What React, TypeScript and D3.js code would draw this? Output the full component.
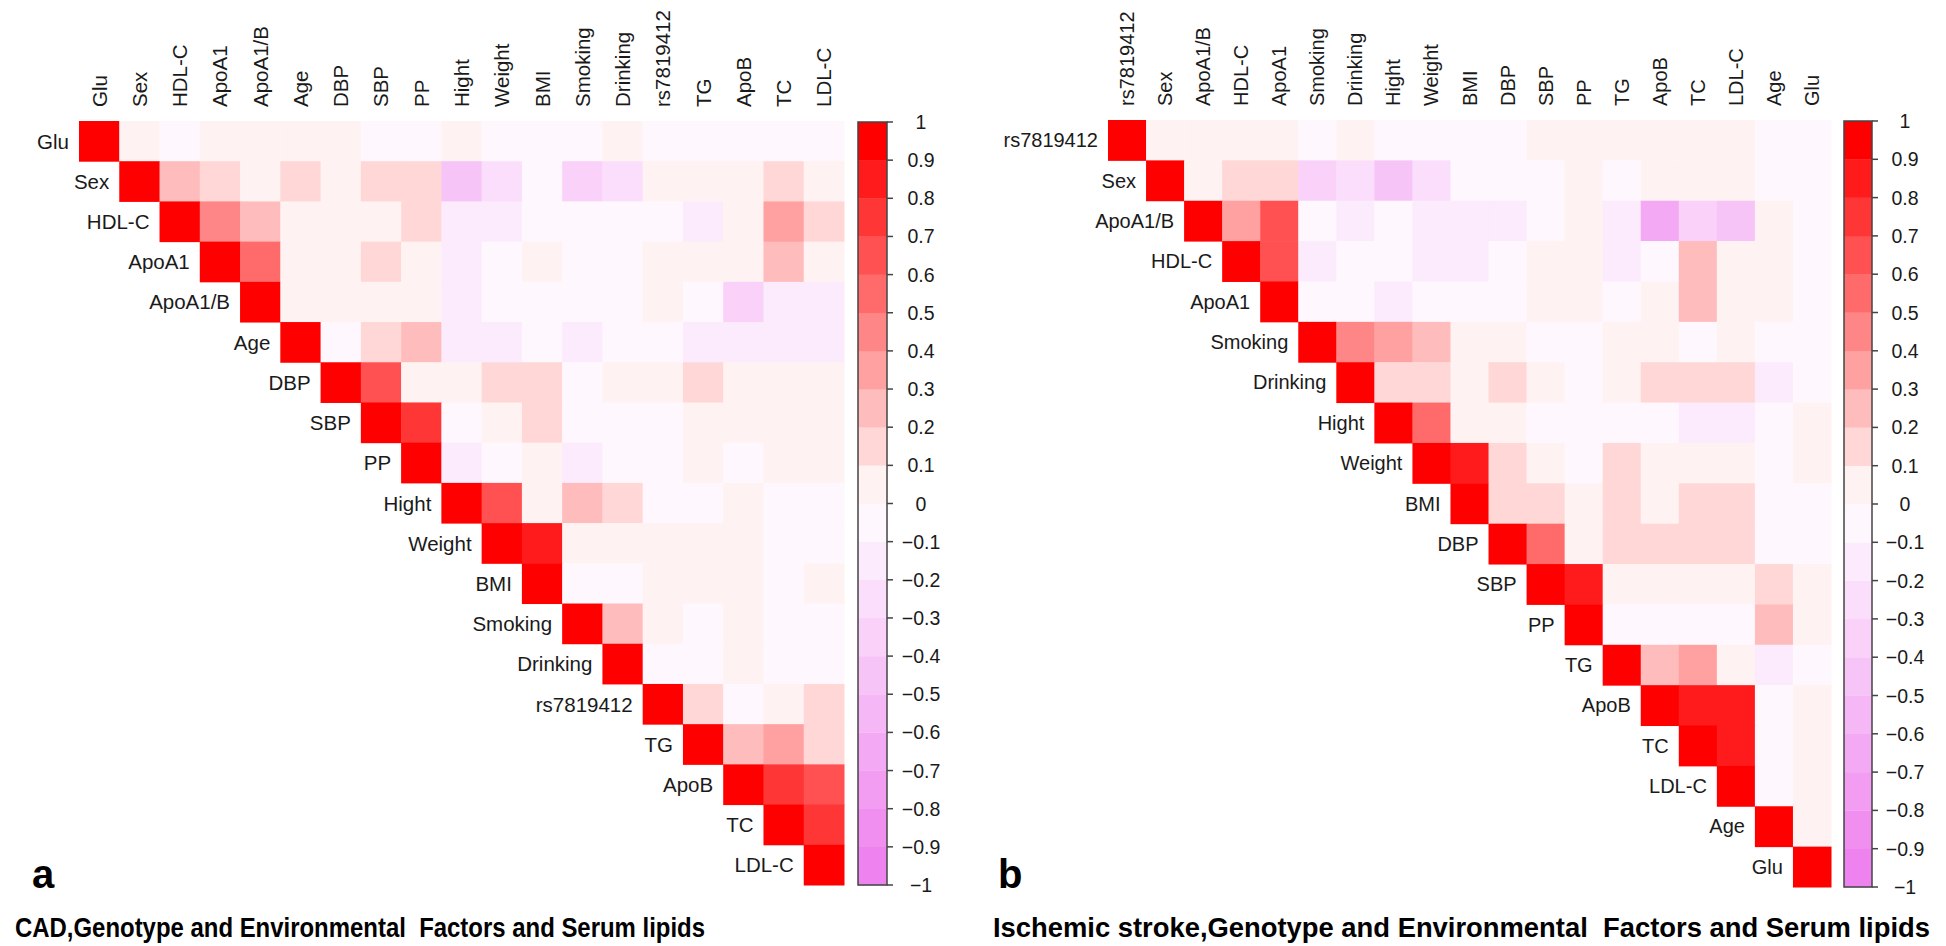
import React from 'react';
import * as d3 from 'd3';

// ---- data ----
const varsA = ['Glu', 'Sex', 'HDL-C', 'ApoA1', 'ApoA1/B', 'Age', 'DBP', 'SBP', 'PP', 'Hight', 'Weight', 'BMI', 'Smoking', 'Drinking', 'rs7819412', 'TG', 'ApoB', 'TC', 'LDL-C'];

// upper triangle: row i holds r(i, j) for j > i
const corrA: number[][] = [
  [0.05, -0.03, 0.05, 0.05, 0.05, 0.05, -0.03, -0.03, 0.05, -0.03, -0.03, -0.03, 0.05, -0.03, -0.03, -0.03, -0.03, -0.03],
  [0.25, 0.15, 0.05, 0.15, 0.05, 0.15, 0.15, -0.42, -0.25, -0.03, -0.38, -0.25, 0.05, 0.05, 0.05, 0.15, 0.05],
  [0.45, 0.25, 0.05, 0.05, 0.05, 0.15, -0.15, -0.12, -0.03, -0.03, -0.03, -0.03, -0.12, 0.05, 0.35, 0.15],
  [0.55, 0.05, 0.05, 0.15, 0.05, -0.12, -0.03, 0.05, -0.03, -0.03, 0.05, 0.05, 0.05, 0.28, 0.05],
  [0.05, 0.05, 0.05, 0.05, -0.12, -0.03, -0.03, -0.03, -0.03, 0.05, -0.03, -0.38, -0.12, -0.2],
  [-0.03, 0.15, 0.25, -0.12, -0.12, -0.03, -0.12, -0.03, -0.03, -0.12, -0.12, -0.12, -0.12],
  [0.65, 0.05, 0.05, 0.15, 0.15, -0.03, 0.05, 0.05, 0.15, 0.05, 0.05, 0.05],
  [0.75, -0.03, 0.05, 0.15, -0.03, -0.03, -0.03, 0.05, 0.05, 0.05, 0.05],
  [-0.12, -0.03, 0.05, -0.12, -0.03, -0.03, 0.05, -0.03, 0.05, 0.05],
  [0.6, 0.05, 0.25, 0.15, -0.03, -0.03, 0.05, -0.03, -0.03],
  [0.85, 0.05, 0.05, 0.05, 0.05, 0.05, -0.03, -0.03],
  [-0.03, -0.03, 0.05, 0.05, 0.05, -0.03, 0.05],
  [0.25, 0.05, -0.03, 0.05, -0.03, -0.03],
  [-0.03, -0.03, 0.05, -0.03, -0.03],
  [0.15, -0.03, 0.05, 0.15],
  [0.22, 0.35, 0.15],
  [0.75, 0.65],
  [0.75],
];

const varsB = ['rs7819412', 'Sex', 'ApoA1/B', 'HDL-C', 'ApoA1', 'Smoking', 'Drinking', 'Hight', 'Weight', 'BMI', 'DBP', 'SBP', 'PP', 'TG', 'ApoB', 'TC', 'LDL-C', 'Age', 'Glu'];

const corrB: number[][] = [
  [0.05, 0.05, 0.05, 0.05, -0.03, 0.05, -0.03, -0.03, -0.03, -0.03, 0.05, 0.05, 0.05, 0.05, 0.05, 0.05, -0.03, -0.03],
  [0.05, 0.15, 0.15, -0.35, -0.3, -0.42, -0.3, -0.03, -0.03, -0.03, 0.05, -0.03, 0.05, 0.05, 0.05, -0.03, -0.03],
  [0.35, 0.6, -0.03, -0.12, -0.03, -0.12, -0.12, -0.12, -0.03, 0.05, -0.2, -0.65, -0.4, -0.48, 0.05, -0.03],
  [0.65, -0.12, -0.03, -0.03, -0.12, -0.12, -0.03, 0.05, 0.05, -0.12, -0.03, 0.25, 0.05, 0.05, -0.03],
  [-0.03, -0.03, -0.12, -0.03, -0.03, -0.03, 0.05, 0.05, -0.03, 0.05, 0.25, 0.05, 0.05, -0.03],
  [0.45, 0.38, 0.28, 0.05, 0.05, -0.03, -0.03, 0.05, 0.05, -0.03, 0.05, -0.03, -0.03],
  [0.18, 0.18, 0.05, 0.15, 0.05, -0.03, 0.05, 0.15, 0.15, 0.15, -0.12, -0.03],
  [0.58, 0.05, 0.05, -0.03, -0.03, -0.03, -0.03, -0.12, -0.12, -0.03, 0.05],
  [0.85, 0.15, 0.05, -0.03, 0.15, 0.05, 0.05, 0.05, -0.03, 0.05],
  [0.15, 0.15, 0.05, 0.15, 0.05, 0.15, 0.15, -0.03, -0.03],
  [0.58, 0.05, 0.15, 0.15, 0.15, 0.15, -0.03, -0.03],
  [0.85, 0.05, 0.05, 0.05, 0.05, 0.18, 0.05],
  [-0.03, -0.03, -0.03, -0.03, 0.25, 0.05],
  [0.25, 0.35, 0.05, -0.12, -0.03],
  [0.85, 0.85, -0.03, 0.05],
  [0.85, -0.03, 0.05],
  [-0.03, 0.05],
  [0.05],
];

const legendTicks = d3.range(-10, 11).map((k) => k / 10);
const titleA = 'CAD,Genotype and Environmental  Factors and Serum lipids';
const titleB = 'Ischemic stroke,Genotype and Environmental  Factors and Serum lipids';

// 20 discrete colours, violet -> white -> red
const ramp = d3.piecewise(d3.interpolateRgb, ['#EE82EE', '#FFFFFF', '#FF0000']);
const bandColors = d3.range(20).map((i) => d3.color(ramp(i / 19))!.formatHex());
const colorScale = d3.scaleQuantize<string>().domain([-1, 1]).range(bandColors);

const FONT = 'Liberation Sans, Arial, Helvetica, sans-serif';

interface PanelProps {
  vars: string[];
  corr: number[][];
  left: number;
  top: number;
  width: number;
  height: number;
  fontSize: number;
  barX: number;
  barW: number;
  barTop: number;
  barBottom: number;
  labelX: number;
  letter: string;
  letterX: number;
  title: string;
  titleX: number;
  titleW: number;
}

const Panel: React.FC<PanelProps> = (p) => {
  const x = d3.scaleBand<string>().domain(p.vars).range([p.left, p.left + p.width]);
  const y = d3.scaleBand<string>().domain(p.vars).range([p.top, p.top + p.height]);
  const yBar = d3.scaleLinear().domain([1, -1]).range([p.barTop, p.barBottom]);

  const cells: { r: string; c: string; v: number }[] = [];
  p.vars.forEach((r, i) => {
    cells.push({ r, c: r, v: 1 });
    (p.corr[i] || []).forEach((v, k) => cells.push({ r, c: p.vars[i + 1 + k], v }));
  });

  const bands = d3.range(20).map((i) => ({ lo: -1 + i * 0.1, hi: -1 + (i + 1) * 0.1, col: bandColors[i] }));

  return (
    <g>
      {cells.map((d) => (
        <rect
          key={d.r + '|' + d.c}
          x={x(d.c)!}
          y={y(d.r)!}
          width={x.bandwidth() + 0.5}
          height={y.bandwidth() + 0.5}
          fill={colorScale(d.v)}
        />
      ))}

      {/* column labels */}
      {p.vars.map((v) => (
        <text
          key={'c' + v}
          transform={`translate(${x(v)! + x.bandwidth() / 2},${p.top - 14}) rotate(-90)`}
          fontSize={p.fontSize}
          fontFamily={FONT}
          fill="#1a1a1a"
          dominantBaseline="central"
        >
          {v}
        </text>
      ))}

      {/* row labels */}
      {p.vars.map((v) => (
        <text
          key={'r' + v}
          x={x(v)! - 10}
          y={y(v)! + y.bandwidth() / 2}
          fontSize={p.fontSize}
          fontFamily={FONT}
          fill="#1a1a1a"
          textAnchor="end"
          dominantBaseline="central"
        >
          {v}
        </text>
      ))}

      {/* colour legend */}
      {bands.map((b, i) => (
        <rect
          key={'b' + i}
          x={p.barX}
          y={yBar(b.hi)}
          width={p.barW}
          height={yBar(b.lo) - yBar(b.hi) + 0.3}
          fill={b.col}
        />
      ))}
      <rect
        x={p.barX}
        y={p.barTop}
        width={p.barW}
        height={p.barBottom - p.barTop}
        fill="none"
        stroke="#444"
        strokeWidth={1.5}
      />
      {legendTicks.map((t) => (
        <g key={'t' + t}>
          <line x1={p.barX + p.barW} x2={p.barX + p.barW + 6} y1={yBar(t)} y2={yBar(t)} stroke="#444" strokeWidth={1.5} />
          <text
            x={p.labelX}
            y={yBar(t)}
            fontSize={19.5}
            fontFamily={FONT}
            fill="#1a1a1a"
            textAnchor="middle"
            dominantBaseline="central"
          >
            {t === 0 ? '0' : d3.format('.1~f')(t).replace('-', '\u2212')}
          </text>
        </g>
      ))}

      <text x={p.letterX} y={888} fontSize={40} fontWeight="bold" fontFamily={FONT} fill="#000">
        {p.letter}
      </text>
      <text
        x={p.titleX}
        y={937}
        fontSize={28}
        fontWeight="bold"
        fontFamily={FONT}
        fill="#000"
        textLength={p.titleW}
        lengthAdjust="spacingAndGlyphs"
        style={{ whiteSpace: 'pre' }}
      >
        {p.title}
      </text>
    </g>
  );
};

export default function App() {
  return (
    <svg
      width={1946}
      height={946}
      style={{ position: 'absolute', left: 0, top: 0, background: '#fff' }}
    >
      <rect width={1946} height={946} fill="#fff" />
      <Panel
        vars={varsA}
        corr={corrA}
        left={79}
        top={121}
        width={765}
        height={764}
        fontSize={20.5}
        barX={858}
        barW={29}
        barTop={122}
        barBottom={885}
        labelX={921}
        letter="a"
        letterX={32}
        title={titleA}
        titleX={15}
        titleW={690}
      />
      <Panel
        vars={varsB}
        corr={corrB}
        left={1108}
        top={120}
        width={723}
        height={767}
        fontSize={20}
        barX={1844}
        barW={28}
        barTop={121}
        barBottom={887}
        labelX={1905}
        letter="b"
        letterX={998}
        title={titleB}
        titleX={993}
        titleW={937}
      />
    </svg>
  );
}
